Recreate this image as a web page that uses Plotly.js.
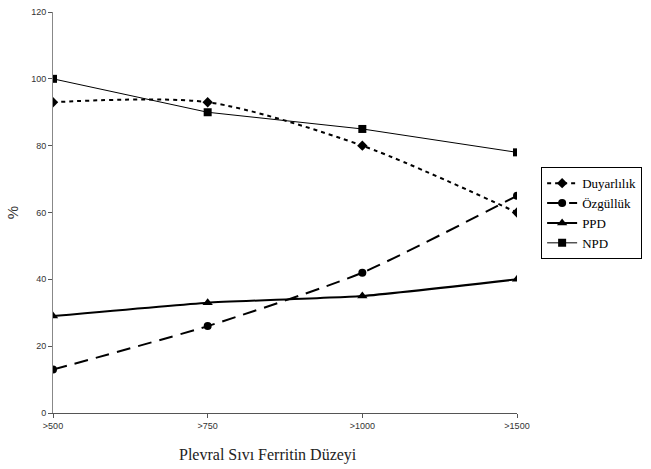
<!DOCTYPE html>
<html>
<head>
<meta charset="utf-8">
<script src="https://cdn.plot.ly/plotly-3.0.1.min.js"></script>
<style>html,body{margin:0;padding:0;background:#fff;}#chart{width:651px;height:469px;}</style>
</head>
<body>
<div id="chart"></div>
<script>
const categories = [">500", ">750", ">1000", ">1500"];
const duyarlilik = [93, 93, 80, 60];
const ozgulluk = [13, 26, 42, 65];
const ppd = [29, 33, 35, 40];
const npd = [100, 90, 85, 78];
const yTicks = [0, 20, 40, 60, 80, 100, 120];

const traces = [
  {x: categories, y: duyarlilik, name: "Duyarlılık", mode: "lines+markers",
   line: {color: "#000", width: 2, dash: "4px,4px", shape: "spline", smoothing: 0.8},
   marker: {symbol: "diamond", size: 8, color: "#000"}},
  {x: categories, y: ozgulluk, name: "Özgüllük", mode: "lines+markers",
   line: {color: "#000", width: 2, dash: "14px,8px", shape: "spline", smoothing: 0.6},
   marker: {symbol: "circle", size: 8, color: "#000"}},
  {x: categories, y: ppd, name: "PPD", mode: "lines+markers",
   line: {color: "#000", width: 2, shape: "spline", smoothing: 0.4},
   marker: {symbol: "triangle-up", size: 9, color: "#000"}},
  {x: categories, y: npd, name: "NPD", mode: "lines+markers",
   line: {color: "#000", width: 1},
   marker: {symbol: "square", size: 8, color: "#000"}}
];

const layout = {
  width: 651, height: 469,
  margin: {l: 53, r: 134, t: 12, b: 56, autoexpand: false},
  paper_bgcolor: "#fff", plot_bgcolor: "#fff",
  showlegend: true,
  legend: {x: 1.052, y: 0.613, xanchor: "left", yanchor: "top",
           bordercolor: "#000", borderwidth: 1, bgcolor: "#fff",
           font: {family: "Liberation Serif, Times New Roman, serif", size: 13, color: "#000"},
           tracegroupgap: 0, itemwidth: 30, traceorder: "normal"},
  xaxis: {type: "category", range: [0, 3], showgrid: false, zeroline: false,
          showline: true, linecolor: "#555", linewidth: 1,
          ticks: "outside", ticklen: 4, tickcolor: "#555",
          tickfont: {family: "Liberation Sans, Arial, sans-serif", size: 9, color: "#333"}},
  yaxis: {range: [0, 120], tickvals: yTicks, showgrid: false, zeroline: false,
          showline: true, linecolor: "#888", linewidth: 1,
          ticks: "outside", ticklen: 4, tickcolor: "#555",
          tickfont: {family: "Liberation Sans, Arial, sans-serif", size: 9, color: "#333"},
          title: {text: "%", standoff: 8, font: {family: "Liberation Sans, Arial, sans-serif", size: 15, color: "#333"}}},
  annotations: [{text: "Plevral Sıvı Ferritin Düzeyi", xref: "paper", yref: "paper",
                 x: 0.463, y: -0.105, xanchor: "center", yanchor: "middle", showarrow: false,
                 font: {family: "Liberation Serif, Times New Roman, serif", size: 16, color: "#222"}}]
};

Plotly.newPlot("chart", traces, layout, {displayModeBar: false, staticPlot: true});
</script>
</body>
</html>
